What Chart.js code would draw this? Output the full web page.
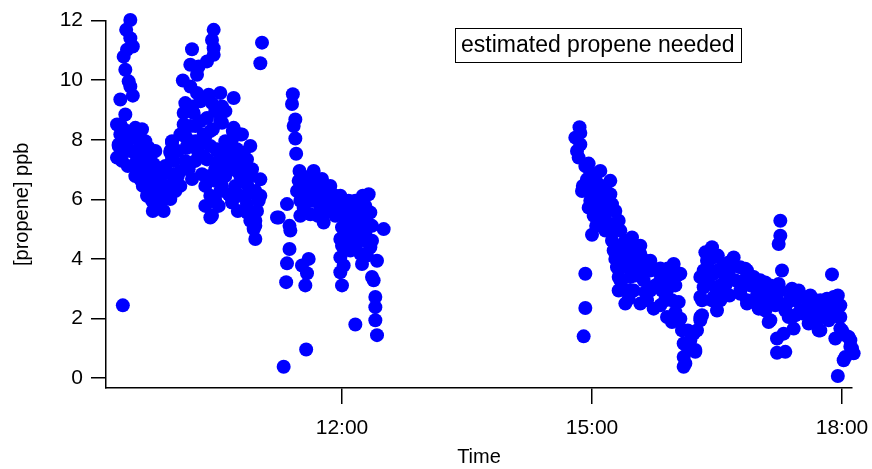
<!DOCTYPE html>
<html>
<head>
<meta charset="utf-8">
<script src="https://cdn.jsdelivr.net/npm/chart.js@4.4.0/dist/chart.umd.min.js"></script>
<style>
  html, body { margin: 0; padding: 0; background: #fff; }
  #wrap { width: 872px; height: 469px; }
</style>
</head>
<body>
<div id="wrap"><canvas id="propeneChart"></canvas></div>
<script>
// [hour of day, propene ppb]
const earlyMorning = [
  [9.46, 12.02], [9.41, 11.69], [9.46, 11.41], [9.49, 11.13], [9.42, 11.02], [9.38, 10.79],
  [9.40, 10.35], [9.44, 9.96], [9.46, 9.79], [9.49, 9.48], [9.34, 9.35], [9.40, 8.85],
  [9.30, 8.51], [9.34, 8.51], [9.52, 8.40], [9.38, 8.35], [9.34, 8.18], [9.48, 8.12],
  [9.32, 7.84], [9.58, 7.95], [9.32, 7.79], [9.30, 7.40], [9.68, 7.73], [9.58, 7.79],
  [9.54, 7.34], [9.70, 7.40], [9.74, 7.18], [9.58, 6.95], [9.58, 6.67], [9.74, 6.78],
  [9.84, 6.84], [9.66, 6.12], [9.78, 6.23], [9.80, 5.89], [9.86, 5.61], [9.37, 2.44],
  [9.64, 7.29], [9.66, 6.95], [9.52, 7.12], [9.70, 6.45], [9.61, 6.45], [9.76, 6.51],
  [9.82, 6.28], [9.84, 5.95], [9.72, 5.95], [9.43, 7.95], [9.40, 7.62], [9.64, 7.56],
  [9.78, 7.01], [9.46, 7.62], [9.36, 7.29], [9.52, 7.62], [9.64, 7.95], [9.42, 8.23],
  [9.58, 7.45], [9.67, 6.68], [9.82, 6.62], [9.78, 5.78], [9.70, 6.12], [9.52, 6.78],
  [9.43, 7.12], [9.60, 8.35], [9.76, 7.62], [9.88, 6.28], [9.73, 5.61],
  [9.94, 6.01], [9.96, 6.51], [10.06, 6.45], [9.96, 6.84], [9.98, 7.29], [9.94, 7.62],
  [9.96, 7.95], [10.08, 8.18], [10.12, 8.46], [10.14, 7.73], [10.16, 7.01], [10.32, 6.84],
  [10.34, 7.45], [10.36, 8.12], [10.42, 5.39], [10.42, 6.12], [10.52, 5.78], [10.48, 6.62],
  [10.48, 7.01], [10.50, 7.62], [10.56, 8.57], [10.62, 7.29], [10.68, 5.89], [10.64, 6.17],
  [10.70, 8.40], [10.78, 8.18], [10.74, 7.68], [10.82, 7.40], [10.92, 7.01], [11.02, 6.67],
  [10.74, 6.95], [10.86, 6.51], [10.96, 6.28], [11.00, 5.95], [10.86, 5.84], [10.98, 5.61],
  [10.86, 5.56], [10.96, 5.28], [10.94, 5.00], [10.96, 4.67], [10.46, 11.69], [10.44, 11.35],
  [10.46, 11.07], [10.46, 10.85], [10.20, 11.04], [10.38, 10.63], [10.28, 10.46], [10.18, 10.52],
  [10.26, 10.18], [10.09, 9.99], [10.18, 9.79], [10.26, 9.57], [10.12, 9.23], [10.20, 9.12],
  [10.10, 8.90], [10.22, 8.90], [10.40, 9.51], [10.54, 9.57], [10.70, 9.40], [10.44, 9.23],
  [10.56, 9.12], [10.38, 8.73], [10.54, 8.62], [10.10, 8.51], [10.34, 8.18], [10.69, 8.29],
  [10.80, 8.18], [10.06, 8.18], [9.96, 7.90], [10.34, 7.90], [10.14, 7.79], [10.68, 8.01],
  [10.50, 7.68], [9.94, 7.56], [10.30, 7.45], [10.68, 7.56], [10.82, 7.56], [10.86, 7.34],
  [9.96, 7.34], [10.38, 7.34], [10.58, 7.40], [11.04, 11.26], [11.02, 10.57], [10.44, 5.45],
  [10.98, 6.12], [10.96, 5.56], [10.96, 5.11], [10.03, 6.78], [10.12, 7.29], [10.24, 7.95],
  [10.24, 8.46], [10.27, 7.62], [10.42, 7.79], [10.60, 7.95], [10.60, 6.78], [10.72, 6.45],
  [10.78, 6.12], [10.54, 6.28], [10.20, 6.68], [9.88, 7.12], [10.66, 7.12], [10.78, 6.78],
  [10.90, 6.28], [10.54, 6.95], [10.36, 6.45], [10.45, 8.35], [10.00, 6.28], [10.03, 7.62],
  [10.18, 7.95], [10.18, 8.46], [10.30, 8.62], [10.42, 8.29], [10.48, 8.96], [10.30, 9.29],
  [10.60, 8.96], [10.63, 7.79], [10.52, 7.29], [10.42, 6.78], [10.56, 6.45], [10.66, 6.12],
  [10.84, 6.12], [10.75, 5.61], [10.90, 6.78], [10.84, 7.12], [10.75, 7.29], [10.90, 7.79],
  [11.02, 6.12], [10.90, 5.28], [10.48, 5.95], [10.36, 5.78], [10.06, 6.95], [10.12, 8.12],
  [10.24, 7.29], [10.30, 7.95]
];

const lateMorning = [
  [11.22, 5.39], [11.41, 9.53], [11.40, 9.20], [11.44, 8.68], [11.42, 8.46], [11.44, 8.04],
  [11.45, 7.53], [11.49, 6.95], [11.48, 6.62], [11.46, 6.28], [11.66, 6.95], [11.34, 5.84],
  [11.24, 5.39], [11.37, 5.11], [11.38, 4.95], [11.37, 4.33], [11.34, 3.85], [11.33, 3.22],
  [11.60, 4.00], [11.52, 3.78], [11.58, 3.52], [11.56, 3.11], [11.57, 0.96], [11.30, 0.38],
  [11.54, 5.72], [11.62, 5.50], [11.72, 6.17], [11.82, 6.34], [11.92, 6.12], [11.78, 5.22],
  [11.66, 5.95], [11.86, 5.72], [11.98, 5.50], [12.08, 5.95], [12.22, 5.67], [12.34, 5.56],
  [12.32, 6.17], [12.00, 5.06], [12.10, 5.17], [12.22, 5.28], [12.28, 4.89], [12.00, 4.44],
  [12.10, 4.28], [11.98, 4.05], [11.98, 3.55], [12.00, 3.11], [12.22, 4.17], [12.24, 3.83],
  [12.34, 4.39], [12.42, 3.94], [12.36, 3.39], [12.38, 3.28], [12.40, 2.72], [12.40, 2.38],
  [12.40, 1.94], [12.42, 1.44], [12.16, 1.80], [12.50, 5.00], [11.56, 6.12], [11.74, 5.78],
  [11.86, 6.12], [11.92, 5.45], [12.04, 5.78], [12.16, 5.45], [12.12, 4.78], [12.04, 4.61],
  [12.19, 4.61], [12.28, 4.61], [11.68, 6.45], [11.50, 5.95], [11.80, 5.55], [11.62, 6.28],
  [11.76, 6.68], [11.98, 6.12], [12.16, 5.95], [12.25, 6.12], [12.32, 5.11], [12.08, 4.88],
  [12.30, 4.11], [12.02, 3.78], [11.56, 6.62], [11.62, 5.95], [11.74, 6.28], [11.83, 5.95],
  [11.95, 5.78], [12.04, 5.45], [12.10, 5.78], [12.19, 5.61], [12.28, 5.78], [12.28, 5.28],
  [12.36, 5.11], [12.19, 4.95], [12.04, 4.95], [11.71, 5.45], [11.50, 5.45], [11.50, 6.34],
  [11.86, 6.45], [11.62, 6.78], [12.36, 4.61], [12.16, 4.44], [11.98, 4.67]
];

const afternoon = [
  [14.85, 8.42], [14.86, 8.23], [14.80, 8.07], [14.86, 7.84], [14.82, 7.62], [14.84, 7.40],
  [14.96, 7.20], [14.98, 6.90], [14.94, 6.67], [15.06, 6.56], [15.10, 6.34], [14.88, 6.28],
  [15.22, 6.17], [15.02, 6.17], [15.24, 5.84], [14.96, 5.72], [15.14, 5.72], [15.02, 5.45],
  [15.14, 5.28], [15.24, 5.17], [15.00, 4.81], [15.48, 4.72], [15.48, 4.56], [15.24, 4.61],
  [15.26, 4.28], [15.28, 4.00], [15.56, 4.17], [15.70, 3.94], [15.30, 3.72], [15.42, 3.72],
  [15.56, 3.72], [15.78, 3.61], [15.98, 3.83], [16.02, 3.44], [15.32, 3.39], [15.46, 3.39],
  [15.62, 3.28], [15.82, 3.28], [15.36, 3.05], [15.50, 2.94], [15.70, 2.94], [15.90, 2.94],
  [16.04, 2.55], [15.40, 2.50], [15.58, 2.50], [15.74, 2.33], [15.90, 2.05], [16.06, 1.99],
  [16.08, 1.60], [16.10, 1.16], [14.92, 3.50], [14.92, 2.35], [14.90, 1.40], [15.58, 4.17],
  [16.06, 3.50], [16.04, 1.94], [16.10, 0.71], [16.10, 0.38], [16.14, 1.05], [16.24, 0.94],
  [16.22, 1.49], [16.26, 1.60], [16.30, 1.94], [16.32, 2.11], [16.32, 2.61], [16.34, 3.05],
  [16.34, 3.50], [16.36, 4.22], [16.44, 4.39], [16.38, 3.94], [16.46, 4.05], [16.46, 3.50],
  [16.48, 3.05], [16.50, 2.27], [16.30, 2.05], [16.24, 0.88], [16.12, 0.49], [16.30, 2.72],
  [16.30, 3.39], [16.34, 3.61], [16.46, 2.72], [16.58, 3.50], [15.07, 5.95], [15.16, 6.12],
  [15.34, 4.11], [15.40, 3.94], [15.64, 3.61], [15.76, 3.11], [15.88, 2.61], [15.52, 3.44],
  [15.34, 3.28], [14.98, 5.95], [14.89, 6.45], [15.07, 5.61], [15.17, 5.55], [15.34, 4.95],
  [15.40, 4.44], [15.64, 3.94], [15.82, 3.68], [15.94, 3.28], [15.22, 6.62], [15.10, 6.95],
  [14.92, 7.12], [15.04, 6.78], [15.00, 6.34], [15.16, 6.45], [15.28, 5.61], [15.32, 5.28],
  [15.24, 4.88], [15.34, 4.44], [15.46, 4.28], [15.46, 3.94], [15.58, 3.78], [15.70, 3.61],
  [15.82, 3.54], [15.91, 3.68], [16.00, 3.11], [15.84, 2.94], [15.64, 2.88], [15.46, 2.94],
  [15.32, 2.94], [15.44, 2.66], [15.66, 2.61], [15.82, 2.44], [15.96, 2.61], [16.00, 2.21],
  [15.96, 1.88], [16.15, 1.60], [16.18, 1.27], [15.16, 4.95], [15.05, 5.11], [15.40, 4.61],
  [15.58, 4.44],
  [16.56, 3.72], [16.62, 3.39], [16.70, 4.05], [16.78, 3.72], [16.86, 3.61], [16.94, 3.39],
  [16.82, 3.28], [16.78, 2.94], [16.86, 2.61], [17.02, 2.94], [17.10, 2.83], [17.14, 2.50],
  [17.14, 1.94], [17.26, 5.28], [17.26, 4.78], [17.24, 4.50], [17.28, 3.61], [17.24, 3.16],
  [17.22, 2.61], [17.34, 2.50], [17.42, 2.94], [17.58, 2.61], [17.66, 2.50], [17.54, 2.16],
  [17.70, 1.94], [17.74, 1.60], [17.22, 1.33], [17.22, 0.85], [17.32, 0.88], [17.36, 2.05],
  [17.82, 2.16], [17.88, 3.48], [17.90, 2.72], [17.90, 2.38], [17.98, 2.05], [18.00, 1.60],
  [17.92, 1.33], [18.10, 1.27], [18.12, 0.99], [18.04, 0.71], [18.14, 0.83], [17.95, 0.07],
  [16.84, 3.67], [16.92, 3.39], [17.08, 2.88], [17.40, 3.00], [17.54, 2.72], [17.68, 2.61],
  [17.82, 2.66], [17.96, 2.05], [17.98, 1.66], [18.08, 1.38], [18.10, 1.05], [18.02, 0.60],
  [17.12, 1.88], [17.30, 1.49], [17.72, 1.60], [16.78, 2.83], [16.86, 2.50], [17.00, 2.33],
  [17.42, 1.66], [17.60, 1.83], [16.96, 3.11], [17.20, 2.94], [17.44, 2.61], [17.50, 2.27],
  [17.62, 2.11], [17.02, 2.61], [16.60, 3.11], [16.65, 2.77], [16.54, 2.61], [16.64, 3.88],
  [16.51, 4.11], [17.32, 2.27], [17.74, 2.27], [17.80, 2.61], [17.02, 3.28], [17.14, 3.11],
  [16.39, 3.78], [16.39, 3.28], [16.54, 3.11], [16.51, 3.61], [16.66, 3.68], [16.72, 3.28],
  [16.90, 3.11], [16.98, 2.77], [17.08, 3.21], [17.26, 2.94], [17.38, 2.68], [17.48, 2.94],
  [17.62, 2.77], [17.74, 2.61], [17.86, 2.44], [17.98, 2.44], [17.95, 2.77], [17.64, 2.27],
  [17.44, 2.11], [17.84, 1.94], [18.04, 1.44], [16.96, 2.61], [17.20, 2.44], [17.08, 2.27],
  [16.57, 2.88], [16.44, 2.61]
];

const timeTicks = [12, 15, 18];
const ppbTicks = [0, 2, 4, 6, 8, 10, 12];
const legendText = 'estimated propene needed';

const FONT = '"Liberation Sans", Arial, Helvetica, sans-serif';

const toXY = ([t, v]) => ({ x: t, y: v });
const allPoints = earlyMorning.concat(lateMorning, afternoon).map(toXY);

// Igor-style text box in the upper middle of the plot
const textBoxPlugin = {
    id: 'textBox',
    afterDraw(chart) {
        const { ctx, chartArea } = chart;
        ctx.save();
        ctx.font = '23px ' + FONT;
        const w = ctx.measureText(legendText).width;
        const x = Math.round(chartArea.left + 349);
        const y = Math.round(chartArea.top + 7);
        ctx.lineWidth = 1;
        ctx.strokeStyle = '#000';
        ctx.strokeRect(x + 0.5, y + 0.5, Math.round(w + 12), 34);
        ctx.fillStyle = '#000';
        ctx.textBaseline = 'middle';
        ctx.fillText(legendText, x + 6, y + 18);
        ctx.restore();
    }
};

const propeneChart = {
    type: 'scatter',
    data: {
        datasets: [{
            label: legendText,
            data: allPoints,
            backgroundColor: '#0000ff',
            borderWidth: 0,
            pointRadius: 7,
            pointHoverRadius: 7,
            clip: false
        }]
    },
    options: {
        responsive: true,
        maintainAspectRatio: false,
        animation: false,
        events: [],
        layout: { padding: { top: 19, right: 20, bottom: 0, left: 0 } },
        plugins: {
            legend: { display: false },
            tooltip: { enabled: false }
        },
        scales: {
            x: {
                type: 'linear',
                position: 'bottom',
                min: 9.168,
                max: 18.12,
                afterBuildTicks: (scale) => { scale.ticks = timeTicks.map(v => ({ value: v })); },
                afterFit: (scale) => {
                    scale.height = 81;
                    scale.paddingLeft = 0;
                    scale.paddingRight = 0;
                },
                grid: { drawOnChartArea: false, drawTicks: true, tickLength: 16, color: '#000', lineWidth: 1.5 },
                border: { display: true, color: '#000', width: 1.5 },
                ticks: {
                    color: '#000',
                    font: { family: FONT, size: 21 },
                    padding: 12,
                    maxRotation: 0,
                    autoSkip: false,
                    callback: (v) => v + ':00'
                },
                title: {
                    display: true,
                    text: 'Time',
                    color: '#000',
                    font: { family: FONT, size: 20 },
                    padding: { top: 0, bottom: 0 }
                }
            },
            y: {
                min: -0.334,
                max: 12,
                afterBuildTicks: (scale) => { scale.ticks = ppbTicks.map(v => ({ value: v })); },
                afterFit: (scale) => { scale.width = 106; },
                grid: { drawOnChartArea: false, drawTicks: true, tickLength: 15, color: '#000', lineWidth: 1.5 },
                border: { display: true, color: '#000', width: 1.5 },
                ticks: {
                    color: '#000',
                    font: { family: FONT, size: 21 },
                    padding: 8,
                    autoSkip: false
                },
                title: {
                    display: true,
                    text: '[propene] ppb',
                    color: '#000',
                    font: { family: FONT, size: 20 },
                    padding: { top: 10, bottom: 0 }
                }
            }
        }
    },
    plugins: [textBoxPlugin]
};

const chart1 = new Chart(document.getElementById('propeneChart'), propeneChart);
</script>
</body>
</html>
